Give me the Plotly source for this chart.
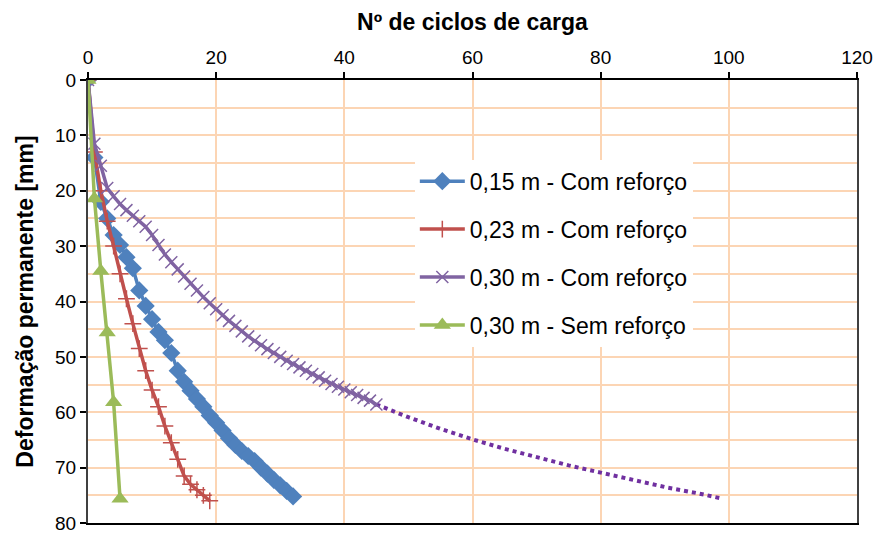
import plotly.graph_objects as go

# Nº de ciclos de carga vs. deformação permanente [mm]
ciclos_015 = list(range(0, 33))
deform_015 = [0, 14, 22, 25, 28, 29.8, 32, 34, 38, 40.8, 43.2, 45.5, 47, 49.3, 52.5,
              54.5, 56.1, 57.6, 59, 60.6, 61.9, 63.3, 64.7, 65.9, 67, 67.9, 68.8,
              70, 71.1, 72.2, 73.2, 74.2, 75.2]

ciclos_023 = list(range(0, 20))
deform_023 = [0, 13, 20, 25.5, 30, 35, 39.5, 44, 48.5, 52.5, 56, 59, 62.5, 65.5,
              68.5, 71.5, 73, 74, 75, 76]

ciclos_030c = list(range(0, 46))
deform_030c = [0, 11.5, 15.5, 19.5, 21, 22.4, 23.5, 24.5, 25.5, 26.5, 28, 29.8,
               31.5, 32.9, 34.2, 35.5, 36.8, 38, 39.2, 40.3, 41.4, 42.5, 43.5,
               44.4, 45.4, 46.3, 47.1, 47.9, 48.6, 49.3, 50, 50.7, 51.3, 51.9,
               52.5, 53.1, 53.7, 54.3, 54.9, 55.4, 55.9, 56.4, 56.9, 57.4, 57.9,
               58.6]

# prolongamento (tendência) da série 0,30 m - Com reforço
ciclos_tend = [45, 50, 55, 60, 65, 70, 75, 80, 85, 90, 95, 99]
deform_tend = [58.6, 60.9, 63.0, 64.9, 66.6, 68.1, 69.6, 70.9, 72.2, 73.5, 74.6, 75.6]

ciclos_030s = [0, 1, 2, 3, 4, 5]
deform_030s = [0, 21.4, 34.5, 45.6, 58.2, 75.6]

x_ticks = [0, 20, 40, 60, 80, 100, 120]
y_ticks = [0, 10, 20, 30, 40, 50, 60, 70, 80]

nomes = ["0,15 m - Com reforço", "0,23 m - Com reforço",
         "0,30 m - Com reforço", "0,30 m - Sem reforço"]

AZUL, VERMELHO, ROXO, VERDE = "#4F81BD", "#C0504D", "#8064A2", "#9BBB59"
GRADE = "#FCD5B4"
FONTE = "Arial, Liberation Sans, sans-serif"

fig = go.Figure()

fig.add_trace(go.Scatter(
    x=ciclos_tend, y=deform_tend, mode="lines", showlegend=False,
    line=dict(color="#7030A0", width=4, dash="dot"), hoverinfo="skip"))

fig.add_trace(go.Scatter(
    x=ciclos_015, y=deform_015, name=nomes[0], legendgroup="a", mode="lines+markers",
    line=dict(color=AZUL, width=3.5),
    marker=dict(symbol="diamond", size=14, color=AZUL)))

fig.add_trace(go.Scatter(
    x=ciclos_023, y=deform_023, name=nomes[1], legendgroup="b", mode="lines+markers",
    line=dict(color=VERMELHO, width=3.5),
    marker=dict(symbol="cross-thin", size=12, color=VERMELHO,
                line=dict(color=VERMELHO, width=1.5))))

fig.add_trace(go.Scatter(
    x=ciclos_030c, y=deform_030c, name=nomes[2], legendgroup="c", mode="lines+markers",
    line=dict(color=ROXO, width=3.5),
    marker=dict(symbol="x-thin", size=12, color=ROXO,
                line=dict(color=ROXO, width=1.5))))

fig.add_trace(go.Scatter(
    x=ciclos_030s, y=deform_030s, name=nomes[3], legendgroup="d", mode="lines+markers",
    line=dict(color=VERDE, width=3.5),
    marker=dict(symbol="triangle-up", size=15, color=VERDE)))

fig.update_layout(
    width=875, height=533,
    margin=dict(l=88, r=18, t=80, b=10),
    paper_bgcolor="white", plot_bgcolor="white",
    font=dict(family=FONTE, color="black"),
    legend=dict(
        x=0.425, y=0.82, xanchor="left", yanchor="top",
        bgcolor="white", font=dict(size=23, family=FONTE),
        tracegroupgap=15, itemwidth=45,
    ),
    xaxis=dict(
        side="top", range=[0, 120], tickvals=x_ticks,
        ticktext=[str(v) for v in x_ticks], automargin=False,
        ticklabeloverflow="allow",
        showgrid=True, gridcolor=GRADE, gridwidth=2,
        showline=True, linecolor="black", linewidth=2, mirror=True,
        ticks="outside", ticklen=6, tickwidth=1.5, tickcolor="black",
        tickfont=dict(size=19), zeroline=False,
        title=dict(text="<b>Nº de ciclos de carga</b>", font=dict(size=23),
                   standoff=10),
    ),
    yaxis=dict(
        range=[80.0001, 0], tickvals=y_ticks, ticktext=[str(v) for v in y_ticks],
        automargin=False, ticklabeloverflow="allow",
        showgrid=True, gridcolor=GRADE, gridwidth=2,
        minor=dict(dtick=5, showgrid=True, gridcolor=GRADE, gridwidth=2),
        showline=True, linecolor="#404040", linewidth=2, mirror=True,
        ticks="outside", ticklen=6, tickwidth=1.5, tickcolor="black",
        tickfont=dict(size=19), zeroline=False,
        title=dict(text="<b>Deformação permanente [mm]</b>", font=dict(size=23),
                   standoff=15),
    ),
)

fig.write_html("out.html")
